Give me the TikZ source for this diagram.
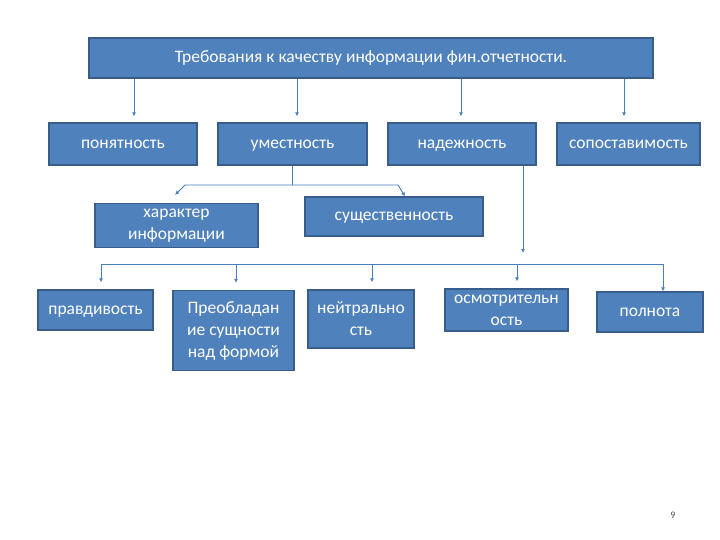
\documentclass[tikz,border=0pt]{standalone}
\usepackage{fontspec}
\setmainfont{Carlito}
\usetikzlibrary{arrows.meta}

\definecolor{boxfill}{HTML}{4F81BD}
\definecolor{boxline}{HTML}{385D8A}
\definecolor{conline}{HTML}{4A7EBB}

\begin{document}
\begin{tikzpicture}[
    x=1pt, y=-1pt,
    entity/.style={rectangle, draw=boxline, line width=1.2pt, fill=boxfill, text=white, font=\fontsize{17.5}{22}\selectfont, inner sep=1pt},
    oneline/.style={entity, text height=10pt, text depth=1pt},
    lines/.style={entity, align=center, execute at begin node={\rule{0pt}{24pt}}},
    link/.style={draw=conline, line width=0.9pt},
    arrow/.style={link, -{Latex[length=4pt,width=4pt]}}
]
\useasboundingbox (0,0) rectangle (720,540);

\node[oneline, minimum width=564, minimum height=40] (req) at (371,58) {Требования к качеству информации фин.отчетности.};

% second row
\node[oneline, minimum width=148, minimum height=42] (ponyat) at (123,144) {понятность};
\node[oneline, minimum width=149, minimum height=42] (umest) at (292.5,144) {уместность};
\node[oneline, minimum width=148, minimum height=42] (nadezh) at (462,144) {надежность};
\node[oneline, minimum width=143, minimum height=42] (sopost) at (628.5,144) {сопоставимость};

% third row
\node[lines, minimum width=163, minimum height=44] (harakter) at (176.5,225.5) {характер\\информации};
\node[oneline, minimum width=178, minimum height=39] (sushch) at (394,216.5) {существенность};

% fourth row
\node[oneline, minimum width=115, minimum height=40] (pravd) at (95.5,310) {правдивость};
\node[lines, minimum width=121, minimum height=80] (preobl) at (233.5,330.5) {Преобладан\\ие сущности\\над формой};
\node[lines, minimum width=106, minimum height=58] (neitr) at (361,319) {нейтрально\\сть};
\node[lines, minimum width=123, minimum height=42] (osmotr) at (506.5,310) {осмотрительн\\ость};
\node[oneline, minimum width=106, minimum height=40] (polnota) at (650,312) {полнота};

\node[font=\fontsize{10}{12}\selectfont, text=black!70] (page) at (673,515) {9};

\coordinate (splitL) at (185,185);
\coordinate (splitR) at (398,185);
\coordinate (nadezhend) at (523,253);
\coordinate (busL) at (101,264);
\coordinate (busR) at (663,264);

% from the heading down
\draw[arrow, shorten >=6pt] ([xshift=11]ponyat.north |- req.south) -- ([xshift=11]ponyat.north);
\draw[arrow, shorten >=6pt] ([xshift=4.5]umest.north |- req.south) -- ([xshift=4.5]umest.north);
\draw[arrow, shorten >=6pt] ([xshift=-1]nadezh.north |- req.south) -- ([xshift=-1]nadezh.north);
\draw[arrow, shorten >=6pt] ([xshift=-4.5]sopost.north |- req.south) -- ([xshift=-4.5]sopost.north);

% split under relevance
\draw[link] (umest.south) -- (umest.south |- splitL);
\draw[arrow] (splitL) -- ([xshift=-1.5,yshift=8]harakter.north);
\draw[arrow] (splitL) -- (splitR) -- ([xshift=11]sushch.north);
\draw[arrow] (nadezh.south -| nadezhend) -- (nadezhend);

% bus to the last row
\draw[link] (busL) -- (busR);
\draw[arrow, shorten >=7pt] ([xshift=5.5]pravd.north |- busL) -- ([xshift=5.5]pravd.north);
\draw[arrow, shorten >=7pt] ([xshift=2.5]preobl.north |- busL) -- ([xshift=2.5]preobl.north);
\draw[arrow, shorten >=7pt] ([xshift=11]neitr.north |- busL) -- ([xshift=11]neitr.north);
\draw[arrow, shorten >=7pt] ([xshift=10.5]osmotr.north |- busL) -- ([xshift=10.5]osmotr.north);
\draw[arrow] ([xshift=13]polnota.north |- busL) -- ([xshift=13]polnota.north);

\end{tikzpicture}
\end{document}
